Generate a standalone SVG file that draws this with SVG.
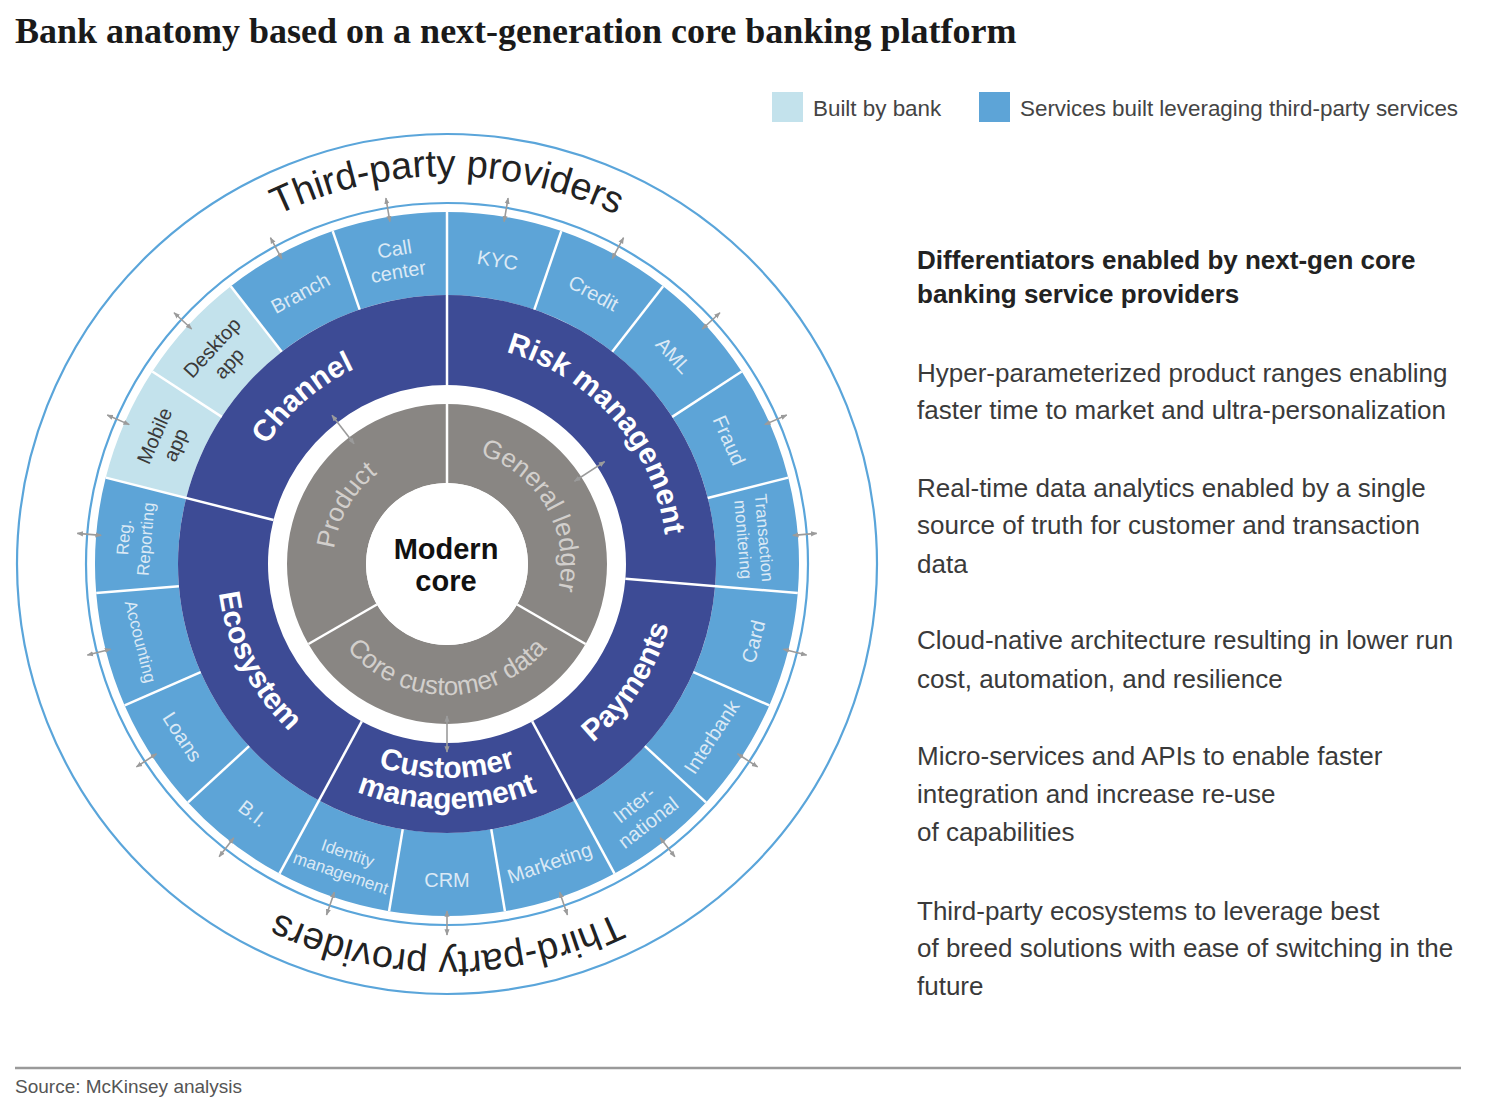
<svg xmlns="http://www.w3.org/2000/svg" width="1498" height="1104" viewBox="0 0 1498 1104">
<style>
.sans{font-family:"Liberation Sans",Arial,sans-serif}
.seg{fill:#5da4d7}
.own{fill:#c3e2ec}
.dark{fill:#3d4b95}
.gray{fill:#898683}
.lbl{font-family:"Liberation Sans",Arial,sans-serif;font-size:20px;fill:#dbe9f5;text-anchor:middle}
.lbl.sm{font-size:17px}
.lbl.dk{fill:#3a3a3a}
.big{font-family:"Liberation Sans",Arial,sans-serif;font-size:30px;font-weight:bold;fill:#ffffff}
.gl{font-family:"Liberation Sans",Arial,sans-serif;font-size:26px;fill:#d2cfcc}
.tp{font-family:"Liberation Sans",Arial,sans-serif;font-size:38px;fill:#222}
.ring{fill:none;stroke:#5aa5da;stroke-width:2.2}
.div{stroke:#ffffff;stroke-width:2.5}
.arr{stroke:#9b9b9b;stroke-width:1.6;marker-start:url(#ah);marker-end:url(#ah)}
.body{font-family:"Liberation Sans",Arial,sans-serif;font-size:26px;fill:#3a3a3a}
</style>
<defs>
<marker id="ah" viewBox="0 0 10 10" refX="9" refY="5" markerWidth="4" markerHeight="4" orient="auto-start-reverse"><path d="M0,1 L10,5 L0,9 z" fill="#9b9b9b"/></marker>
<line id="arrO" class="arr" x1="0" y1="-12" x2="0" y2="12"/>
<line id="arrI" class="arr" x1="0" y1="-18" x2="0" y2="18"/>
<path id="pTop" d="M 59 564 A 388 388 0 0 1 835 564"/>
<path id="pBot" d="M 835 564 A 388 388 0 0 1 59 564"/>
<path id="pChannel" d="M 283.98 705.71 A 216 216 0 0 1 610.02 422.29"/>
<path id="pRisk" d="M 302.67 397.96 A 220 220 0 0 1 591.33 730.04"/>
<path id="pPay" d="M 320.51 757.29 A 231 231 0 0 0 573.49 370.71"/>
<path id="pEco" d="M 342.13 358.18 A 231 231 0 0 0 551.87 769.82"/>
<path id="pCust1" d="M 233 564 A 214 214 0 0 0 661 564"/>
<path id="pCust2" d="M 202 564 A 245 245 0 0 0 692 564"/>
<path id="pProd" d="M 390 662.73 A 114 114 0 0 1 504 465.27"/>
<path id="pGL" d="M 390 465.27 A 114 114 0 0 1 504 662.73"/>
<path id="pCCD" d="M 316 564 A 131 131 0 0 0 578 564"/>
</defs>
<rect width="1498" height="1104" fill="#ffffff"/>

<text x="15" y="43" font-family="'Liberation Serif','Times New Roman',serif" font-size="36" font-weight="bold" fill="#1a1a1a">Bank anatomy based on a next-generation core banking platform</text>

<g id="legend" class="sans" font-size="22.4" fill="#444">
<rect x="772" y="92" width="31" height="30" fill="#c3e2ec"/>
<text x="813" y="116">Built by bank</text>
<rect x="979" y="92" width="31" height="30" fill="#5da4d7"/>
<text x="1020" y="116">Services built leveraging third-party services</text>
</g>

<g id="third-party-providers">
<circle class="ring" cx="447" cy="564" r="430"/>
<circle class="ring" cx="447" cy="564" r="361"/>
<text class="tp"><textPath href="#pTop" startOffset="50%" text-anchor="middle">Third-party providers</textPath></text>
<text class="tp"><textPath href="#pBot" startOffset="50%" text-anchor="middle">Third-party providers</textPath></text>
</g>

<g id="seg-kyc"><path class="seg" d="M 447 212 A 352 352 0 0 1 561.29 231.07 L 534.34 309.57 A 269 269 0 0 0 447 295 Z"/>
<text class="lbl" transform="translate(497.69 260.2) rotate(9.47)" y="7">KYC</text></g>
<g id="seg-credit"><path class="seg" d="M 561.29 231.07 A 352 352 0 0 1 663.2 286.22 L 612.22 351.72 A 269 269 0 0 0 534.34 309.57 Z"/>
<text class="lbl" transform="translate(593.59 293.12) rotate(28.42)" y="7">Credit</text></g>
<g id="seg-aml"><path class="seg" d="M 663.2 286.22 A 352 352 0 0 1 741.68 371.47 L 672.2 416.87 A 269 269 0 0 0 612.22 351.72 Z"/>
<text class="lbl" transform="translate(673.6 355.4) rotate(47.37)" y="7">AML</text></g>
<g id="seg-fraud"><path class="seg" d="M 741.68 371.47 A 352 352 0 0 1 788.23 477.59 L 707.77 497.96 A 269 269 0 0 0 672.2 416.87 Z"/>
<text class="lbl" transform="translate(729.06 440.28) rotate(66.32)" y="7">Fraud</text></g>
<g id="seg-transaction"><path class="seg" d="M 788.23 477.59 A 352 352 0 0 1 797.8 593.07 L 715.08 586.21 A 269 269 0 0 0 707.77 497.96 Z"/>
<text class="lbl sm" transform="translate(753.95 538.57) rotate(85.26)"><tspan x="0" y="-4.5">Transaction</tspan><tspan x="0" y="16.5">monitering</tspan></text></g>
<g id="seg-card"><path class="seg" d="M 797.8 593.07 A 352 352 0 0 1 769.35 705.4 L 693.34 672.06 A 269 269 0 0 0 715.08 586.21 Z"/>
<text class="lbl" transform="translate(753.33 641.57) rotate(-75.79)" y="7">Card</text></g>
<g id="seg-interbank"><path class="seg" d="M 769.35 705.4 A 352 352 0 0 1 705.97 802.4 L 644.91 746.19 A 269 269 0 0 0 693.34 672.06 Z"/>
<text class="lbl" transform="translate(711.55 736.84) rotate(-56.84)" y="7">Interbank</text></g>
<g id="seg-international"><path class="seg" d="M 705.97 802.4 A 352 352 0 0 1 614.53 873.57 L 575.03 800.58 A 269 269 0 0 0 644.91 746.19 Z"/>
<text class="lbl" transform="translate(641.09 813.37) rotate(-37.89)"><tspan x="0" y="-4.5">Inter-</tspan><tspan x="0" y="18.5">national</tspan></text></g>
<g id="seg-marketing"><path class="seg" d="M 614.53 873.57 A 352 352 0 0 1 504.94 911.2 L 491.27 829.33 A 269 269 0 0 0 575.03 800.58 Z"/>
<text class="lbl" transform="translate(549.61 862.88) rotate(-18.95)" y="7">Marketing</text></g>
<g id="seg-crm"><path class="seg" d="M 504.94 911.2 A 352 352 0 0 1 389.06 911.2 L 402.73 829.33 A 269 269 0 0 0 491.27 829.33 Z"/>
<text class="lbl" transform="translate(447 880)" y="7">CRM</text></g>
<g id="seg-identity"><path class="seg" d="M 389.06 911.2 A 352 352 0 0 1 279.47 873.57 L 318.97 800.58 A 269 269 0 0 0 402.73 829.33 Z"/>
<text class="lbl sm" transform="translate(344.39 862.88) rotate(18.95)"><tspan x="0" y="-4.5">Identity</tspan><tspan x="0" y="16.5">management</tspan></text></g>
<g id="seg-bi"><path class="seg" d="M 279.47 873.57 A 352 352 0 0 1 188.03 802.4 L 249.09 746.19 A 269 269 0 0 0 318.97 800.58 Z"/>
<text class="lbl" transform="translate(252.91 813.37) rotate(37.89)" y="7">B.I.</text></g>
<g id="seg-loans"><path class="seg" d="M 188.03 802.4 A 352 352 0 0 1 124.65 705.4 L 200.66 672.06 A 269 269 0 0 0 249.09 746.19 Z"/>
<text class="lbl" transform="translate(182.45 736.84) rotate(56.84)" y="7">Loans</text></g>
<g id="seg-accounting"><path class="seg" d="M 124.65 705.4 A 352 352 0 0 1 96.2 593.07 L 178.92 586.21 A 269 269 0 0 0 200.66 672.06 Z"/>
<text class="lbl sm" transform="translate(140.67 641.57) rotate(75.79)" y="6">Accounting</text></g>
<g id="seg-reg"><path class="seg" d="M 96.2 593.07 A 352 352 0 0 1 105.77 477.59 L 186.23 497.96 A 269 269 0 0 0 178.92 586.21 Z"/>
<text class="lbl sm" transform="translate(134.07 538.07) rotate(-85.26)"><tspan x="0" y="-4.5">Reg.</tspan><tspan x="0" y="17.5">Reporting</tspan></text></g>
<g id="seg-mobile"><path class="own" d="M 105.77 477.59 A 352 352 0 0 1 152.32 371.47 L 221.8 416.87 A 269 269 0 0 0 186.23 497.96 Z"/>
<text class="lbl dk" transform="translate(164.94 440.28) rotate(-66.32)"><tspan x="0" y="-4.5">Mobile</tspan><tspan x="0" y="18.5">app</tspan></text></g>
<g id="seg-desktop"><path class="own" d="M 152.32 371.47 A 352 352 0 0 1 230.8 286.22 L 281.78 351.72 A 269 269 0 0 0 221.8 416.87 Z"/>
<text class="lbl dk" transform="translate(220.4 355.4) rotate(-47.37)"><tspan x="0" y="-4.5">Desktop</tspan><tspan x="0" y="18.5">app</tspan></text></g>
<g id="seg-branch"><path class="seg" d="M 230.8 286.22 A 352 352 0 0 1 332.71 231.07 L 359.66 309.57 A 269 269 0 0 0 281.78 351.72 Z"/>
<text class="lbl" transform="translate(300.41 293.12) rotate(-28.42)" y="7">Branch</text></g>
<g id="seg-callcenter"><path class="seg" d="M 332.71 231.07 A 352 352 0 0 1 447 212 L 447 295 A 269 269 0 0 0 359.66 309.57 Z"/>
<text class="lbl" transform="translate(396.31 260.2) rotate(-9.47)"><tspan x="0" y="-4.5">Call</tspan><tspan x="0" y="18.5">center</tspan></text></g>

<g id="channel"><path class="dark" d="M 186.23 497.96 A 269 269 0 0 1 447 295 L 447 385 A 179 179 0 0 0 273.48 520.06 Z"/>
<text class="big"><textPath href="#pChannel" startOffset="50%" text-anchor="middle">Channel</textPath></text></g>
<g id="risk-management"><path class="dark" d="M 447 295 A 269 269 0 0 1 715.08 586.21 L 625.39 578.78 A 179 179 0 0 0 447 385 Z"/>
<text class="big"><textPath href="#pRisk" startOffset="50%" text-anchor="middle">Risk management</textPath></text></g>
<g id="payments"><path class="dark" d="M 715.08 586.21 A 269 269 0 0 1 575.03 800.58 L 532.2 721.43 A 179 179 0 0 0 625.39 578.78 Z"/>
<text class="big"><textPath href="#pPay" startOffset="50%" text-anchor="middle">Payments</textPath></text></g>
<g id="customer-management"><path class="dark" d="M 575.03 800.58 A 269 269 0 0 1 318.97 800.58 L 361.8 721.43 A 179 179 0 0 0 532.2 721.43 Z"/>
<text class="big"><textPath href="#pCust1" startOffset="50%" text-anchor="middle">Customer</textPath></text>
<text class="big"><textPath href="#pCust2" startOffset="50%" text-anchor="middle">management</textPath></text></g>
<g id="ecosystem"><path class="dark" d="M 318.97 800.58 A 269 269 0 0 1 186.23 497.96 L 273.48 520.06 A 179 179 0 0 0 361.8 721.43 Z"/>
<text class="big"><textPath href="#pEco" startOffset="50%" text-anchor="middle">Ecosystem</textPath></text></g>

<g id="product"><path class="gray" d="M 308.44 644 A 160 160 0 0 1 447 404 L 447 483 A 81 81 0 0 0 376.85 604.5 Z"/>
<text class="gl"><textPath href="#pProd" startOffset="50%" text-anchor="middle">Product</textPath></text></g>
<g id="general-ledger"><path class="gray" d="M 447 404 A 160 160 0 0 1 585.56 644 L 517.15 604.5 A 81 81 0 0 0 447 483 Z"/>
<text class="gl"><textPath href="#pGL" startOffset="50%" text-anchor="middle">General ledger</textPath></text></g>
<g id="core-customer-data"><path class="gray" d="M 585.56 644 A 160 160 0 0 1 308.44 644 L 376.85 604.5 A 81 81 0 0 0 517.15 604.5 Z"/>
<text class="gl"><textPath href="#pCCD" startOffset="50%" text-anchor="middle">Core customer data</textPath></text></g>

<g id="modern-core">
<circle cx="447" cy="564" r="81" fill="#ffffff"/>
<text class="sans" x="446" y="559" font-size="29" font-weight="bold" fill="#111" text-anchor="middle">Modern</text>
<text class="sans" x="446" y="591" font-size="29" font-weight="bold" fill="#111" text-anchor="middle">core</text>
</g>

<g id="dividers">
<line class="div" x1="447" y1="385" x2="447" y2="211"/>
<line class="div" x1="534.34" y1="309.57" x2="561.29" y2="231.07"/>
<line class="div" x1="612.22" y1="351.72" x2="663.2" y2="286.22"/>
<line class="div" x1="672.2" y1="416.87" x2="741.68" y2="371.47"/>
<line class="div" x1="707.77" y1="497.96" x2="788.23" y2="477.59"/>
<line class="div" x1="625.39" y1="578.78" x2="797.8" y2="593.07"/>
<line class="div" x1="693.34" y1="672.06" x2="769.35" y2="705.4"/>
<line class="div" x1="644.91" y1="746.19" x2="705.97" y2="802.4"/>
<line class="div" x1="532.2" y1="721.43" x2="614.53" y2="873.57"/>
<line class="div" x1="491.27" y1="829.33" x2="504.94" y2="911.2"/>
<line class="div" x1="402.73" y1="829.33" x2="389.06" y2="911.2"/>
<line class="div" x1="361.8" y1="721.43" x2="279.47" y2="873.57"/>
<line class="div" x1="249.09" y1="746.19" x2="188.03" y2="802.4"/>
<line class="div" x1="200.66" y1="672.06" x2="124.65" y2="705.4"/>
<line class="div" x1="178.92" y1="586.21" x2="96.2" y2="593.07"/>
<line class="div" x1="273.48" y1="520.06" x2="105.77" y2="477.59"/>
<line class="div" x1="221.8" y1="416.87" x2="152.32" y2="371.47"/>
<line class="div" x1="281.78" y1="351.72" x2="230.8" y2="286.22"/>
<line class="div" x1="359.66" y1="309.57" x2="332.71" y2="231.07"/>
<line class="div" x1="447" y1="483" x2="447" y2="403"/>
<line class="div" x1="517.15" y1="604.5" x2="585.56" y2="644"/>
<line class="div" x1="376.85" y1="604.5" x2="308.44" y2="644"/>
</g>

<g id="connectors">
<use href="#arrO" transform="translate(447 564) rotate(9.474) translate(0 -359)"/>
<use href="#arrO" transform="translate(447 564) rotate(28.421) translate(0 -359)"/>
<use href="#arrO" transform="translate(447 564) rotate(47.368) translate(0 -359)"/>
<use href="#arrO" transform="translate(447 564) rotate(66.316) translate(0 -359)"/>
<use href="#arrO" transform="translate(447 564) rotate(85.263) translate(0 -359)"/>
<use href="#arrO" transform="translate(447 564) rotate(104.211) translate(0 -359)"/>
<use href="#arrO" transform="translate(447 564) rotate(123.158) translate(0 -359)"/>
<use href="#arrO" transform="translate(447 564) rotate(142.105) translate(0 -359)"/>
<use href="#arrO" transform="translate(447 564) rotate(161.053) translate(0 -359)"/>
<use href="#arrO" transform="translate(447 564) rotate(180) translate(0 -359)"/>
<use href="#arrO" transform="translate(447 564) rotate(198.947) translate(0 -359)"/>
<use href="#arrO" transform="translate(447 564) rotate(217.895) translate(0 -359)"/>
<use href="#arrO" transform="translate(447 564) rotate(236.842) translate(0 -359)"/>
<use href="#arrO" transform="translate(447 564) rotate(255.789) translate(0 -359)"/>
<use href="#arrO" transform="translate(447 564) rotate(274.737) translate(0 -359)"/>
<use href="#arrO" transform="translate(447 564) rotate(293.684) translate(0 -359)"/>
<use href="#arrO" transform="translate(447 564) rotate(312.632) translate(0 -359)"/>
<use href="#arrO" transform="translate(447 564) rotate(331.579) translate(0 -359)"/>
<use href="#arrO" transform="translate(447 564) rotate(350.526) translate(0 -359)"/>
<use href="#arrI" transform="translate(447 564) rotate(322.3) translate(0 -170)"/>
<use href="#arrI" transform="translate(447 564) rotate(57) translate(0 -170)"/>
<use href="#arrI" transform="translate(447 564) rotate(180) translate(0 -170)"/>
</g>

<g id="differentiators">
<text class="sans" font-size="26" font-weight="bold" fill="#222"><tspan x="917" y="269">Differentiators enabled by next-gen core</tspan><tspan x="917" y="303">banking service providers</tspan></text>
<text class="body"><tspan x="917" y="382">Hyper-parameterized product ranges enabling</tspan><tspan x="917" y="419">faster time to market and ultra-personalization</tspan></text>
<text class="body"><tspan x="917" y="497">Real-time data analytics enabled by a single</tspan><tspan x="917" y="534">source of truth for customer and transaction</tspan><tspan x="917" y="573">data</tspan></text>
<text class="body"><tspan x="917" y="649">Cloud-native architecture resulting in lower run</tspan><tspan x="917" y="688">cost, automation, and resilience</tspan></text>
<text class="body"><tspan x="917" y="765">Micro-services and APIs to enable faster</tspan><tspan x="917" y="803">integration and increase re-use</tspan><tspan x="917" y="841">of capabilities</tspan></text>
<text class="body"><tspan x="917" y="920">Third-party ecosystems to leverage best</tspan><tspan x="917" y="957">of breed solutions with ease of switching in the</tspan><tspan x="917" y="995">future</tspan></text>
</g>

<g id="footer">
<line x1="15" y1="1068" x2="1461" y2="1068" stroke="#9a9a9a" stroke-width="2.5"/>
<text class="sans" x="15" y="1093" font-size="19" fill="#555">Source: McKinsey analysis</text>
</g>
</svg>
